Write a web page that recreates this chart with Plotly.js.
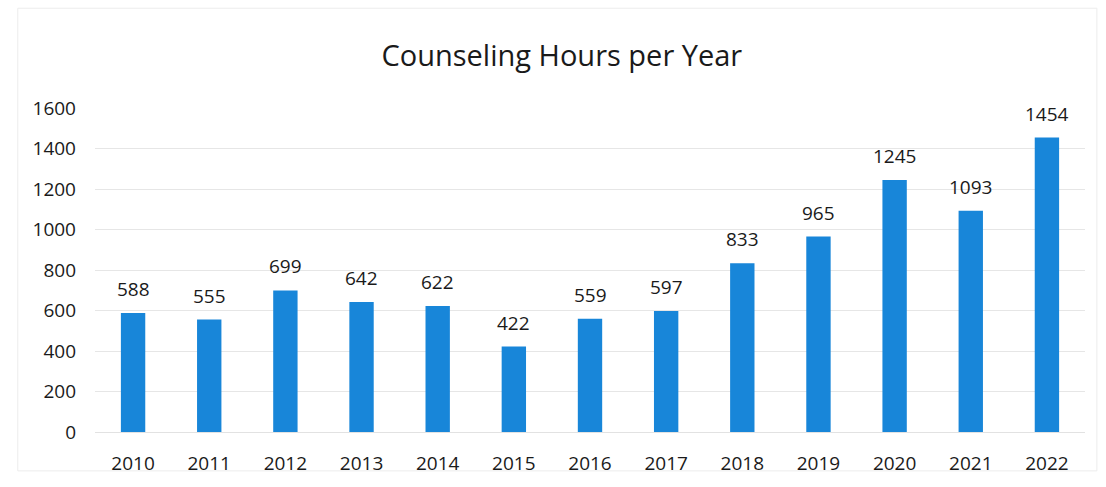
<!DOCTYPE html>
<html>
<head>
<meta charset="utf-8">
<script src="https://cdn.plot.ly/plotly-3.0.1.min.js"></script>
<style>html,body{margin:0;padding:0;background:#fff;}#chart{width:1106px;height:487px;}</style>
</head>
<body>
<div id="chart"></div>
<script>
const years = ["2010","2011","2012","2013","2014","2015","2016","2017","2018","2019","2020","2021","2022"];
const hours = [588,555,699,642,622,422,559,597,833,965,1245,1093,1454];
const yTicks = [0,200,400,600,800,1000,1200,1400,1600];

const FONT = "Open Sans, sans-serif";

const trace = {
  type: "bar",
  x: years,
  y: hours,
  marker: {color: "#1886d9"},
  width: 0.32,
  hoverinfo: "x+y"
};

// category axis: annotation x given as the category index
const annotations = years.map((yr, i) => ({
  x: i, y: hours[i], xref: "x", yref: "y",
  text: String(hours[i]),
  showarrow: false,
  yanchor: "bottom",
  yshift: 9,
  font: {family: FONT, size: 19, color: "#1a1a1a"}
}));

const layout = {
  width: 1106,
  height: 487,
  paper_bgcolor: "#ffffff",
  plot_bgcolor: "#ffffff",
  margin: {l: 95, r: 21, t: 108, b: 55},
  title: {
    text: "Counseling Hours per Year",
    font: {family: FONT, size: 29, color: "#1a1a1a"},
    x: 0.508, xanchor: "center",
    y: 0.885, yanchor: "middle"
  },
  showlegend: false,
  xaxis: {
    type: "category",
    range: [-0.5, years.length - 0.5],
    tickfont: {family: FONT, size: 19, color: "#1a1a1a"},
    showgrid: false,
    showline: true,
    linecolor: "#e2e2e2",
    linewidth: 1,
    ticks: "",
    ticklabelstandoff: 14
  },
  yaxis: {
    range: [0, 1600],
    tickvals: yTicks,
    ticktext: yTicks.map(String),
    tickfont: {family: FONT, size: 19, color: "#1a1a1a"},
    showgrid: true,
    gridcolor: "#e6e6e6",
    gridwidth: 1,
    zeroline: false,
    showline: false,
    ticks: "",
    ticklabelstandoff: 18
  },
  annotations: annotations,
  shapes: [{
    type: "rect", xref: "paper", yref: "paper",
    x0: -0.078, x1: 1.012, y0: -0.12, y1: 1.308,
    line: {color: "#ececec", width: 1}
  }]
};

Plotly.newPlot("chart", [trace], layout, {displayModeBar: false, staticPlot: true});
</script>
</body>
</html>
